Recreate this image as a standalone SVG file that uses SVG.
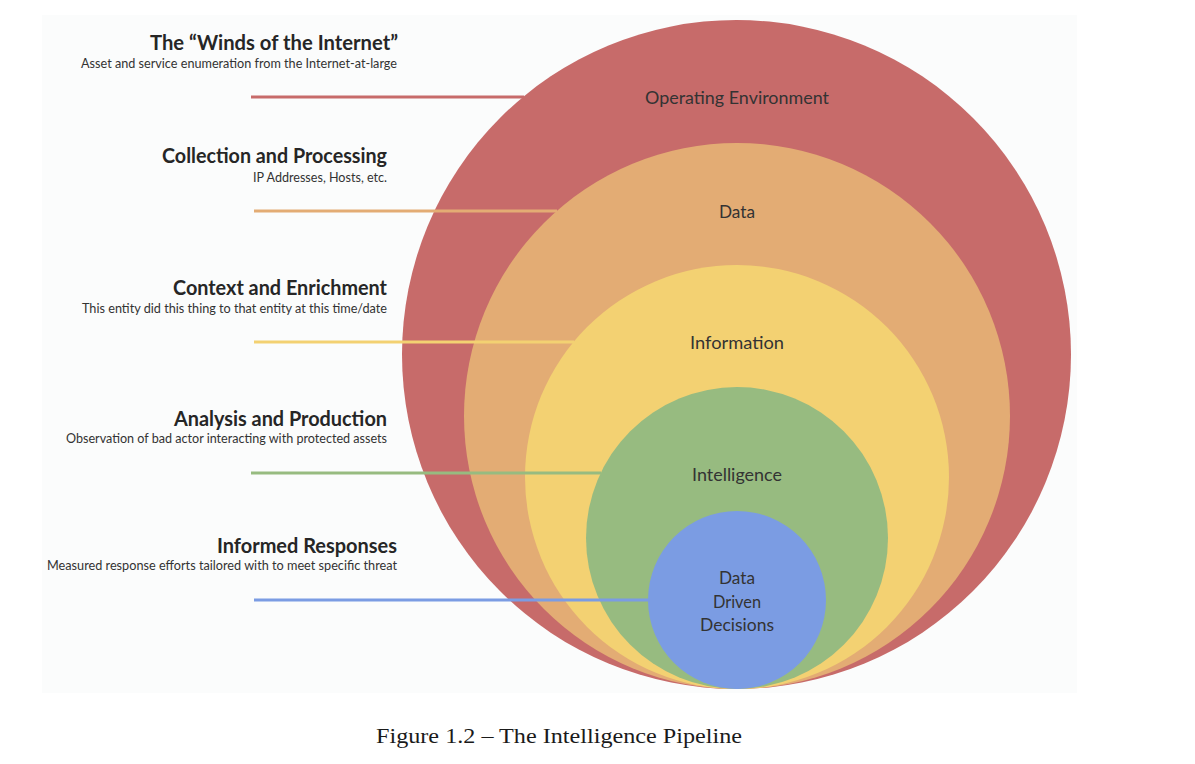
<svg xmlns="http://www.w3.org/2000/svg" width="1195" height="764" viewBox="0 0 1195 764">
<style>
.t{font-family:Lato,"Open Sans","Liberation Sans",sans-serif;font-weight:bold;font-size:20px;fill:#262626;text-anchor:end}
.s{font-family:Lato,"Open Sans","Liberation Sans",sans-serif;font-size:12.5px;fill:#333;text-anchor:end}
.c{font-family:Lato,"Open Sans","Liberation Sans",sans-serif;font-size:17px;fill:#333;text-anchor:middle}
.cap{font-family:"Liberation Serif","Times New Roman",serif;font-size:21px;fill:#1a1a1a;text-anchor:middle}
.ln{stroke-width:3;fill:none}
</style>
<rect x="0" y="0" width="1195" height="764" fill="#ffffff"/>
<rect x="42" y="15" width="1035" height="678" fill="#fbfcfc"/>

<g id="operating-environment">
<circle cx="736.5" cy="354.5" r="334.5" fill="#c76b6a"/>
<text class="c" x="737" y="104" textLength="184" lengthAdjust="spacingAndGlyphs">Operating Environment</text>
</g>
<g id="data">
<circle cx="737" cy="416" r="273" fill="#e3ac74"/>
<text class="c" x="737" y="218" textLength="36" lengthAdjust="spacingAndGlyphs">Data</text>
</g>
<g id="information">
<circle cx="737" cy="477" r="212" fill="#f3d172"/>
<text class="c" x="737" y="349" textLength="94" lengthAdjust="spacingAndGlyphs">Information</text>
</g>
<g id="intelligence">
<circle cx="737" cy="538" r="151" fill="#97bb80"/>
<text class="c" x="737" y="481" textLength="90" lengthAdjust="spacingAndGlyphs">Intelligence</text>
</g>
<g id="data-driven-decisions">
<circle cx="737" cy="600" r="89" fill="#7b9ce3"/>
<text class="c" x="737" y="584" textLength="36" lengthAdjust="spacingAndGlyphs">Data</text>
<text class="c" x="737" y="608" textLength="48" lengthAdjust="spacingAndGlyphs">Driven</text>
<text class="c" x="737" y="631" textLength="74" lengthAdjust="spacingAndGlyphs">Decisions</text>
</g>

<g id="connectors">
<line class="ln" x1="251" y1="97" x2="524" y2="97" stroke="#c76b6a"/>
<line class="ln" x1="254" y1="211" x2="557" y2="211" stroke="#e3ac74"/>
<line class="ln" x1="254" y1="342" x2="574" y2="342" stroke="#f3d172"/>
<line class="ln" x1="251" y1="473" x2="601" y2="473" stroke="#97bb80"/>
<line class="ln" x1="254" y1="600" x2="649" y2="600" stroke="#7b9ce3"/>
</g>

<g id="label-winds">
<text class="t" x="398" y="50" textLength="248" lengthAdjust="spacingAndGlyphs">The “Winds of the Internet”</text>
<text class="s" x="397" y="68" textLength="316" lengthAdjust="spacingAndGlyphs">Asset and service enumeration from the Internet-at-large</text>
</g>
<g id="label-collection">
<text class="t" x="387" y="163" textLength="225" lengthAdjust="spacingAndGlyphs">Collection and Processing</text>
<text class="s" x="387" y="182" textLength="134" lengthAdjust="spacingAndGlyphs">IP Addresses, Hosts, etc.</text>
</g>
<g id="label-context">
<text class="t" x="387" y="295" textLength="214" lengthAdjust="spacingAndGlyphs">Context and Enrichment</text>
<text class="s" x="387" y="313" textLength="305" lengthAdjust="spacingAndGlyphs">This entity did this thing to that entity at this time/date</text>
</g>
<g id="label-analysis">
<text class="t" x="387" y="426" textLength="213" lengthAdjust="spacingAndGlyphs">Analysis and Production</text>
<text class="s" x="387" y="443" textLength="321" lengthAdjust="spacingAndGlyphs">Observation of bad actor interacting with protected assets</text>
</g>
<g id="label-informed">
<text class="t" x="397" y="553" textLength="180" lengthAdjust="spacingAndGlyphs">Informed Responses</text>
<text class="s" x="397" y="570" textLength="350" lengthAdjust="spacingAndGlyphs">Measured response efforts tailored with to meet specific threat</text>
</g>

<text class="cap" x="559" y="743" textLength="366" lengthAdjust="spacingAndGlyphs">Figure 1.2 – The Intelligence Pipeline</text>
</svg>
